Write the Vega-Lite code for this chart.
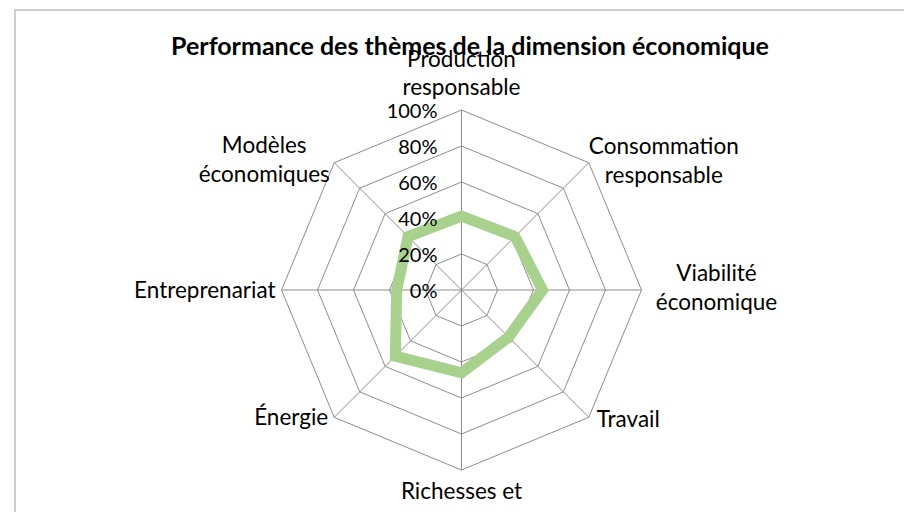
{
  "$schema": "https://vega.github.io/schema/vega-lite/v6.json",
  "width": 910,
  "height": 520,
  "autosize": {"type": "none"},
  "padding": {"left": 15, "top": 10, "right": 0, "bottom": 0},
  "background": "white",
  "config": {"view": {"stroke": "#bdbdbd", "strokeWidth": 1.5}, "font": "Lato"},
  "title": {"text": "Performance des thèmes de la dimension économique", "font": "Lato", "fontSize": 25, "fontWeight": "bold", "color": "#000000", "anchor": "middle", "frame": "group", "dy": 54},
  "datasets": {
    "themes": [
      {"idx": 0, "label": ["Production", "responsable"], "value": 41},
      {"idx": 1, "label": ["Consommation", "responsable"], "value": 42},
      {"idx": 2, "label": ["Viabilité", "économique"], "value": 45},
      {"idx": 3, "label": ["Travail"], "value": 37},
      {"idx": 4, "label": ["Richesses et"], "value": 46},
      {"idx": 5, "label": ["Énergie"], "value": 52},
      {"idx": 6, "label": ["Entreprenariat"], "value": 36},
      {"idx": 7, "label": ["Modèles", "économiques"], "value": 42}
    ],
    "levels": [
      {"level": 0, "k": [0, 1, 2, 3, 4, 5, 6, 7]},
      {"level": 20, "k": [0, 1, 2, 3, 4, 5, 6, 7]},
      {"level": 40, "k": [0, 1, 2, 3, 4, 5, 6, 7]},
      {"level": 60, "k": [0, 1, 2, 3, 4, 5, 6, 7]},
      {"level": 80, "k": [0, 1, 2, 3, 4, 5, 6, 7]},
      {"level": 100, "k": [0, 1, 2, 3, 4, 5, 6, 7]}
    ]
  },
  "layer": [
    {
      "data": {"name": "levels"},
      "transform": [
        {"filter": "datum.level > 0"},
        {"flatten": ["k"]},
        {"calculate": "datum.level * sin(datum.k * PI / 4)", "as": "px"},
        {"calculate": "datum.level * cos(datum.k * PI / 4)", "as": "py"}
      ],
      "mark": {"type": "line", "interpolate": "linear-closed", "stroke": "#8c8c8c", "strokeWidth": 1, "clip": false},
      "encoding": {
        "x": {"field": "px", "type": "quantitative", "scale": {"domain": [-248.06, 257.5], "nice": false, "zero": false}, "axis": null},
        "y": {"field": "py", "type": "quantitative", "scale": {"domain": [-133.33, 155.56], "nice": false, "zero": false}, "axis": null},
        "detail": {"field": "level", "type": "nominal"},
        "order": {"field": "k", "type": "quantitative"}
      }
    },
    {
      "data": {"name": "themes"},
      "transform": [
        {"calculate": "100 * sin(datum.idx * PI / 4)", "as": "sx"},
        {"calculate": "100 * cos(datum.idx * PI / 4)", "as": "sy"}
      ],
      "mark": {"type": "rule", "stroke": "#8c8c8c", "strokeWidth": 1},
      "encoding": {
        "x": {"field": "sx", "type": "quantitative", "scale": {"domain": [-248.06, 257.5], "nice": false, "zero": false}, "axis": null},
        "y": {"field": "sy", "type": "quantitative", "scale": {"domain": [-133.33, 155.56], "nice": false, "zero": false}, "axis": null},
        "x2": {"datum": 0},
        "y2": {"datum": 0}
      }
    },
    {
      "data": {"name": "themes"},
      "transform": [
        {"calculate": "datum.value * sin(datum.idx * PI / 4)", "as": "px"},
        {"calculate": "datum.value * cos(datum.idx * PI / 4)", "as": "py"}
      ],
      "mark": {"type": "line", "interpolate": "linear-closed", "stroke": "#a9d18e", "strokeWidth": 11, "strokeJoin": "miter"},
      "encoding": {
        "x": {"field": "px", "type": "quantitative", "scale": {"domain": [-248.06, 257.5], "nice": false, "zero": false}, "axis": null},
        "y": {"field": "py", "type": "quantitative", "scale": {"domain": [-133.33, 155.56], "nice": false, "zero": false}, "axis": null},
        "order": {"field": "idx", "type": "quantitative"}
      }
    },
    {
      "data": {"name": "levels"},
      "transform": [{"calculate": "datum.level + '%'", "as": "txt"}],
      "mark": {"type": "text", "align": "right", "baseline": "middle", "dx": -24, "dy": 2, "fontSize": 20, "font": "Lato", "color": "#000000"},
      "encoding": {
        "x": {"datum": 0, "type": "quantitative", "scale": {"domain": [-248.06, 257.5], "nice": false, "zero": false}, "axis": null},
        "y": {"field": "level", "type": "quantitative", "scale": {"domain": [-133.33, 155.56], "nice": false, "zero": false}, "axis": null},
        "text": {"field": "txt"}
      }
    },
    {
      "data": {"name": "themes"},
      "transform": [
        {"filter": "datum.idx == 0"},
        {"calculate": "100 * sin(datum.idx * PI / 4)", "as": "lx"},
        {"calculate": "100 * cos(datum.idx * PI / 4)", "as": "ly"}
      ],
      "mark": {"type": "text", "align": "center", "baseline": "middle", "dy": -50, "fontSize": 22.5, "lineHeight": 28, "font": "Lato", "color": "#000000"},
      "encoding": {
        "x": {"field": "lx", "type": "quantitative", "scale": {"domain": [-248.06, 257.5], "nice": false, "zero": false}, "axis": null},
        "y": {"field": "ly", "type": "quantitative", "scale": {"domain": [-133.33, 155.56], "nice": false, "zero": false}, "axis": null},
        "text": {"field": "label"}
      }
    },
    {
      "data": {"name": "themes"},
      "transform": [
        {"filter": "datum.idx == 1 || datum.idx == 2"},
        {"calculate": "100 * sin(datum.idx * PI / 4)", "as": "lx"},
        {"calculate": "100 * cos(datum.idx * PI / 4)", "as": "ly"}
      ],
      "mark": {"type": "text", "align": "center", "baseline": "middle", "dx": 75, "dy": -16, "fontSize": 22.5, "lineHeight": 29, "font": "Lato", "color": "#000000"},
      "encoding": {
        "x": {"field": "lx", "type": "quantitative", "scale": {"domain": [-248.06, 257.5], "nice": false, "zero": false}, "axis": null},
        "y": {"field": "ly", "type": "quantitative", "scale": {"domain": [-133.33, 155.56], "nice": false, "zero": false}, "axis": null},
        "text": {"field": "label"}
      }
    },
    {
      "data": {"name": "themes"},
      "transform": [
        {"filter": "datum.idx == 3"},
        {"calculate": "100 * sin(datum.idx * PI / 4)", "as": "lx"},
        {"calculate": "100 * cos(datum.idx * PI / 4)", "as": "ly"}
      ],
      "mark": {"type": "text", "align": "left", "baseline": "middle", "dx": 8, "dy": 3, "fontSize": 22.5, "font": "Lato", "color": "#000000"},
      "encoding": {
        "x": {"field": "lx", "type": "quantitative", "scale": {"domain": [-248.06, 257.5], "nice": false, "zero": false}, "axis": null},
        "y": {"field": "ly", "type": "quantitative", "scale": {"domain": [-133.33, 155.56], "nice": false, "zero": false}, "axis": null},
        "text": {"field": "label"}
      }
    },
    {
      "data": {"name": "themes"},
      "transform": [
        {"filter": "datum.idx == 4"},
        {"calculate": "100 * sin(datum.idx * PI / 4)", "as": "lx"},
        {"calculate": "100 * cos(datum.idx * PI / 4)", "as": "ly"}
      ],
      "mark": {"type": "text", "align": "center", "baseline": "top", "dy": 11, "fontSize": 22.5, "font": "Lato", "color": "#000000"},
      "encoding": {
        "x": {"field": "lx", "type": "quantitative", "scale": {"domain": [-248.06, 257.5], "nice": false, "zero": false}, "axis": null},
        "y": {"field": "ly", "type": "quantitative", "scale": {"domain": [-133.33, 155.56], "nice": false, "zero": false}, "axis": null},
        "text": {"field": "label"}
      }
    },
    {
      "data": {"name": "themes"},
      "transform": [
        {"filter": "datum.idx == 5 || datum.idx == 6"},
        {"calculate": "100 * sin(datum.idx * PI / 4)", "as": "lx"},
        {"calculate": "100 * cos(datum.idx * PI / 4)", "as": "ly"}
      ],
      "mark": {"type": "text", "align": "right", "baseline": "middle", "dx": -6, "dy": 1, "fontSize": 22.5, "font": "Lato", "color": "#000000"},
      "encoding": {
        "x": {"field": "lx", "type": "quantitative", "scale": {"domain": [-248.06, 257.5], "nice": false, "zero": false}, "axis": null},
        "y": {"field": "ly", "type": "quantitative", "scale": {"domain": [-133.33, 155.56], "nice": false, "zero": false}, "axis": null},
        "text": {"field": "label"}
      }
    },
    {
      "data": {"name": "themes"},
      "transform": [
        {"filter": "datum.idx == 7"},
        {"calculate": "100 * sin(datum.idx * PI / 4)", "as": "lx"},
        {"calculate": "100 * cos(datum.idx * PI / 4)", "as": "ly"}
      ],
      "mark": {"type": "text", "align": "center", "baseline": "middle", "dx": -70, "dy": -17, "fontSize": 22.5, "lineHeight": 29, "font": "Lato", "color": "#000000"},
      "encoding": {
        "x": {"field": "lx", "type": "quantitative", "scale": {"domain": [-248.06, 257.5], "nice": false, "zero": false}, "axis": null},
        "y": {"field": "ly", "type": "quantitative", "scale": {"domain": [-133.33, 155.56], "nice": false, "zero": false}, "axis": null},
        "text": {"field": "label"}
      }
    }
  ]
}
